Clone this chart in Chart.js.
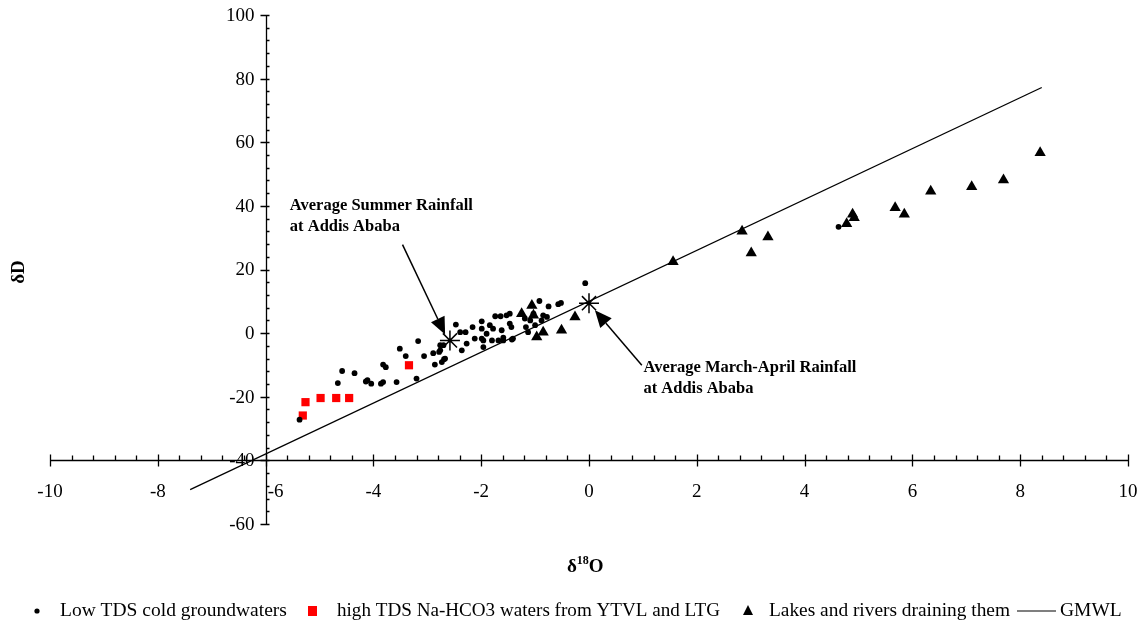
<!DOCTYPE html>
<html>
<head>
<meta charset="utf-8">
<script src="https://cdn.jsdelivr.net/npm/chart.js"></script>
<style>
    html, body { margin: 0; padding: 0; background: #fff; }
    #wrap { position: relative; width: 1146px; height: 624px; }
</style>
</head>
<body>
<div id="wrap"><canvas id="chart" width="1146" height="624"></canvas></div>
<script>
// Low TDS cold groundwaters
const groundX = [-5.37, -4.66, -4.58, -4.35, -4.14, -4.11, -4.04, -3.86, -3.82, -3.82, -3.77, -3.57, -3.51, -3.40, -3.20,
    -3.17, -3.06, -2.89, -2.86, -2.78, -2.73, -2.69, -2.76, -2.70, -2.47, -2.39, -2.29, -2.16, -1.99, -1.99, -1.84, -1.74,
    -1.64, -1.53, -1.47, -1.62, -1.47, -1.44, -1.90, -1.80, -1.96, -2.12, -2.27, -2.36, -2.76, -2.67, -1.68, -1.59, -1.43,
    -0.07, -0.92, -0.75, -0.57, -0.52, -1.03, -1.19, -1.09, -1.00, -0.85, -0.78, -1.17, -1.13, -1.78, -1.99, -1.59, -1.41,
    -1.96, -0.88, 4.63];
const groundY = [-27.2, -15.7, -11.9, -12.6, -15.2, -14.8, -15.9, -15.9, -15.4, -9.9, -10.7, -15.4, -4.9, -7.2, -14.3,
    -2.5, -7.2, -6.3, -9.9, -5.9, -9.1, -8.2, -3.8, -3.8, 2.7, 0.3, 0.3, 1.9, 3.7, 1.4, 2.5, 5.3,
    5.3, 5.6, 6.1, 0.9, 3.0, 1.9, -0.2, -2.3, -2.3, -1.7, -3.3, -5.4, -5.4, -8.0, -2.3, -2.3, -2.0,
    15.7, 10.1, 8.4, 9.1, 9.5, 6.1, 4.6, 4.0, 2.5, 5.6, 5.1, 1.9, 0.3, 1.4, -1.7, -1.4, -1.7,
    -4.4, 4.0, 33.4];

// high TDS Na-HCO3 waters
const tdsX = [-5.31, -5.26, -4.98, -4.69, -4.45, -3.34];
const tdsY = [-25.9, -21.7, -20.4, -20.4, -20.4, -10.1];

// Lakes and rivers
const lakeX = [-1.06, -1.25, -1.03, -0.26, -0.51, -0.85, -0.97, 1.56, 2.84, 3.01, 3.32, 4.78, 4.89, 4.92, 5.68, 5.85,
    6.34, 7.10, 7.69, 8.37];
const lakeY = [8.7, 6.1, 5.6, 5.1, 0.9, 0.3, -1.2, 22.4, 32.0, 25.2, 30.2, 34.4, 37.4, 36.3, 39.4, 37.4,
    44.6, 46.0, 48.1, 56.7];

// average rainfall (summer, March-April)
const rainX = [-2.58, 0.0];
const rainY = [-2.3, 9.4];

// GMWL end points
const gmwlX = [-7.4, 8.4];
const gmwlY = [-49.2, 77.2];

const xTicks = [-10, -8, -6, -4, -2, 0, 2, 4, 6, 8, 10];
const yTicks = [-60, -40, -20, 0, 20, 40, 60, 80, 100];

const notes = [
    { lines: ['Average Summer Rainfall', 'at Addis Ababa'], x: -5.55, y: 40.2, fromX: -3.46, fromY: 27.8, toX: -2.67, toY: -0.4 },
    { lines: ['Average March-April Rainfall', 'at Addis Ababa'], x: 1.01, y: -11.0, fromX: 0.98, fromY: -10.1, toX: 0.11, toY: 7.2 }
];

const legendLabels = ['Low TDS cold groundwaters', 'high TDS Na-HCO3 waters from YTVL and LTG',
    'Lakes and rivers draining them', 'GMWL'];

const SERIF = "'Liberation Serif', 'Times New Roman', serif";

const toPoints = (xs, ys) => xs.map((v, i) => ({ x: v, y: ys[i] }));

const crossAxes = {
    id: 'crossAxes',
    beforeDatasetsDraw(chart) {
        const { ctx, scales: { x, y } } = chart;
        const ax = Math.round(x.getPixelForValue(-6)) + 0.5;
        const ay = Math.round(y.getPixelForValue(-40)) + 0.5;
        ctx.save();
        ctx.strokeStyle = '#000';
        ctx.lineWidth = 1.3;
        ctx.beginPath();
        ctx.moveTo(x.getPixelForValue(-10), ay);
        ctx.lineTo(x.getPixelForValue(10), ay);
        ctx.moveTo(ax, y.getPixelForValue(-60));
        ctx.lineTo(ax, y.getPixelForValue(100));
        ctx.stroke();

        // x ticks: major every 2, minor every 0.4
        ctx.beginPath();
        for (let i = 0; i <= 50; i++) {
            const px = Math.round(x.getPixelForValue(-10 + i * 0.4)) + 0.5;
            if (i % 5 === 0) { ctx.moveTo(px, ay - 6); ctx.lineTo(px, ay + 6); }
            else { ctx.moveTo(px, ay - 5); ctx.lineTo(px, ay); }
        }
        // y ticks: major every 20, minor every 4
        for (let i = 0; i <= 40; i++) {
            const py = Math.round(y.getPixelForValue(-60 + i * 4)) + 0.5;
            if (i % 5 === 0) { ctx.moveTo(ax - 6, py); ctx.lineTo(ax + 3, py); }
            else { ctx.moveTo(ax, py); ctx.lineTo(ax + 3, py); }
        }
        ctx.stroke();

        ctx.fillStyle = '#000';
        ctx.font = '19px ' + SERIF;
        ctx.textBaseline = 'middle';
        ctx.textAlign = 'center';
        xTicks.forEach(v => {
            let px = x.getPixelForValue(v);
            if (v === -6) px += 10;
            ctx.fillText(String(v), px, ay + 32);
        });
        ctx.textAlign = 'right';
        yTicks.forEach(v => {
            ctx.fillText(String(v), ax - 12, y.getPixelForValue(v) + 1);
        });
        ctx.restore();
    },
    afterDraw(chart) {
        const { ctx, scales: { x, y } } = chart;
        ctx.save();
        ctx.fillStyle = '#000';
        ctx.strokeStyle = '#000';

        // annotations with arrows
        notes.forEach(n => {
            ctx.font = 'bold 16.5px ' + SERIF;
            ctx.textAlign = 'left';
            ctx.textBaseline = 'middle';
            const tx = x.getPixelForValue(n.x), ty = y.getPixelForValue(n.y);
            n.lines.forEach((t, i) => ctx.fillText(t, tx, ty + i * 21));

            const x1 = x.getPixelForValue(n.fromX), y1 = y.getPixelForValue(n.fromY);
            const x2 = x.getPixelForValue(n.toX), y2 = y.getPixelForValue(n.toY);
            const ang = Math.atan2(y2 - y1, x2 - x1);
            const len = 17, half = 7.5;
            const bx = x2 - Math.cos(ang) * len, by = y2 - Math.sin(ang) * len;
            ctx.lineWidth = 1.5;
            ctx.beginPath();
            ctx.moveTo(x1, y1);
            ctx.lineTo(bx, by);
            ctx.stroke();
            ctx.beginPath();
            ctx.moveTo(x2, y2);
            ctx.lineTo(bx + Math.sin(ang) * half, by - Math.cos(ang) * half);
            ctx.lineTo(bx - Math.sin(ang) * half, by + Math.cos(ang) * half);
            ctx.closePath();
            ctx.fill();
        });

        // axis titles
        ctx.font = 'bold 19px ' + SERIF;
        ctx.textBaseline = 'alphabetic';
        ctx.textAlign = 'left';
        const base = 572;
        let cx = 567;
        ctx.fillText('\u03b4', cx, base);
        cx += ctx.measureText('\u03b4').width;
        ctx.font = 'bold 12px ' + SERIF;
        ctx.fillText('18', cx, base - 8);
        cx += ctx.measureText('18').width;
        ctx.font = 'bold 19px ' + SERIF;
        ctx.fillText('O', cx, base);

        ctx.save();
        ctx.translate(24, 272);
        ctx.rotate(-Math.PI / 2);
        ctx.textAlign = 'center';
        ctx.fillText('\u03b4D', 0, 0);
        ctx.restore();

        // legend
        const ly = 611;
        ctx.font = '19.5px ' + SERIF;
        ctx.textBaseline = 'middle';
        ctx.textAlign = 'left';
        ctx.beginPath();
        ctx.arc(37, ly, 2.6, 0, Math.PI * 2);
        ctx.fill();
        ctx.fillText(legendLabels[0], 60, ly, 230);

        ctx.fillStyle = '#ff0000';
        ctx.fillRect(308, ly - 5, 9, 10);
        ctx.fillStyle = '#000';
        ctx.fillText(legendLabels[1], 337, ly, 383);

        ctx.beginPath();
        ctx.moveTo(748, ly - 6);
        ctx.lineTo(753, ly + 4);
        ctx.lineTo(743, ly + 4);
        ctx.closePath();
        ctx.fill();
        ctx.fillText(legendLabels[2], 769, ly, 241);

        ctx.lineWidth = 1.2;
        ctx.beginPath();
        ctx.moveTo(1017, ly);
        ctx.lineTo(1056, ly);
        ctx.stroke();
        ctx.fillText(legendLabels[3], 1060, ly, 65);
        ctx.restore();
    }
};

new Chart(document.getElementById('chart'), {
    type: 'scatter',
    data: {
        datasets: [
            {
                label: 'GMWL',
                type: 'line',
                data: toPoints(gmwlX, gmwlY),
                borderColor: '#000',
                borderWidth: 1.3,
                pointRadius: 0,
                fill: false
            },
            {
                label: legendLabels[2],
                data: toPoints(lakeX, lakeY),
                pointStyle: 'triangle',
                pointRadius: 6.5,
                backgroundColor: '#000',
                borderColor: '#000',
                borderWidth: 0
            },
            {
                label: legendLabels[0],
                data: toPoints(groundX, groundY),
                pointStyle: 'circle',
                pointRadius: 2.9,
                backgroundColor: '#000',
                borderWidth: 0
            },
            {
                label: legendLabels[1],
                data: toPoints(tdsX, tdsY),
                pointStyle: 'rect',
                pointRadius: 5.8,
                backgroundColor: '#ff0000',
                borderWidth: 0
            },
            {
                label: 'Average rainfall',
                data: toPoints(rainX, rainY),
                pointStyle: 'star',
                pointRadius: 10,
                backgroundColor: '#000',
                borderColor: '#000',
                borderWidth: 1.5
            }
        ]
    },
    options: {
        responsive: false,
        devicePixelRatio: 1,
        animation: false,
        layout: { padding: { left: 50, right: 18, top: 15, bottom: 100 } },
        scales: {
            x: { type: 'linear', min: -10, max: 10, display: false },
            y: { type: 'linear', min: -60, max: 100, display: false }
        },
        plugins: {
            legend: { display: false },
            tooltip: { enabled: false }
        }
    },
    plugins: [crossAxes]
});
</script>
</body>
</html>
